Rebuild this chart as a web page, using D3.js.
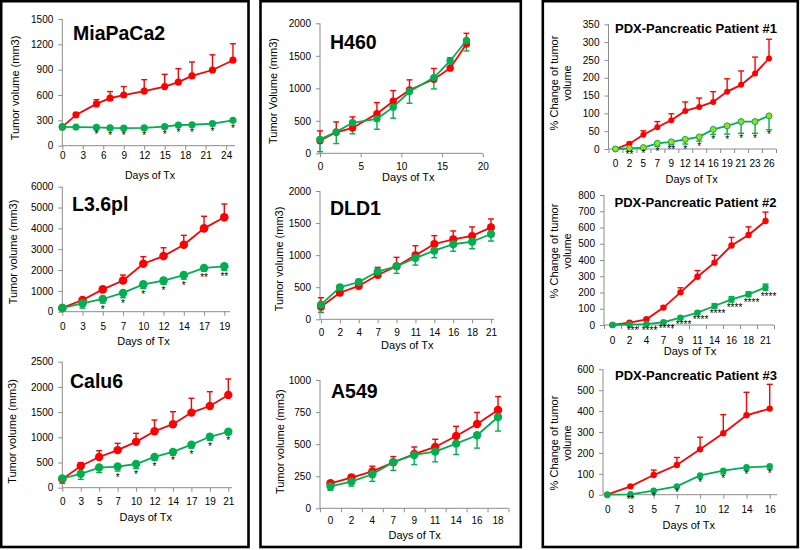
<!DOCTYPE html>
<html><head><meta charset="utf-8">
<script src="https://cdn.jsdelivr.net/npm/d3@7"></script>
<style>
body{margin:0;background:#fff}
svg{display:block}
text{font-family:"Liberation Sans",Arial,Helvetica,sans-serif}
</style>
</head><body>
<svg id="c" width="800" height="550"></svg>
<script>
// ---------------- DATA ----------------
// MiaPaCa2
const miaDays = [0,2,5,7,9,12,15,17,19,22,25];
const miaCtrl = [222,365,495,563,600,647,700,752,826,896,1012];
const miaCtrlErr = [0,20,50,78,100,135,145,160,165,180,195];
const miaTrt = [222,220,216,210,208,210,225,245,248,262,300];
const miaTrtErr = [8,10,10,10,10,10,12,12,12,12,15];
const miaStars = ["","","*","*","*","*","*","*","*","*","*"];
const miaTicks = [0,3,6,9,12,15,18,21,24];
// L3.6pl
const l3Days = [0,3,5,7,10,12,14,17,19];
const l3Ctrl = [180,560,1070,1500,2300,2670,3215,4000,4530];
const l3CtrlErr = [0,60,130,260,340,400,450,580,640];
const l3Trt = [180,400,610,900,1310,1490,1760,2100,2180];
const l3TrtErr = [50,230,200,230,200,180,200,150,200];
const l3Stars = ["","","*","*","*","*","*","**","**"];
// Calu6
const caluDays = [0,3,5,7,10,12,14,17,19,21];
const caluCtrl = [170,430,610,745,910,1120,1260,1490,1620,1840];
const caluCtrlErr = [0,66,124,135,169,223,248,284,285,317];
const caluTrt = [185,275,400,420,470,610,710,855,1010,1110];
const caluTrtErr = [100,110,100,90,90,70,60,70,70,60];
const caluStars = ["","","","*","*","*","*","*","*","*"];
// H460
const h460Days = [0,2,4,7,9,11,14,16,18];
const h460Ctrl = [195,323,390,610,800,975,1140,1310,1680];
const h460CtrlErr = [150,160,170,170,165,155,165,160,166];
const h460Trt = [215,330,470,530,710,950,1165,1420,1735];
const h460TrtErr = [190,180,170,160,170,180,175,100,160];
const h460Ticks = [0,5,10,15,20];
// DLD1
const dldDays = [0,2,4,7,9,11,14,16,18,21];
const dldCtrl = [197,415,520,690,826,997,1174,1247,1300,1434];
const dldCtrlErr = [140,100,100,120,140,150,130,130,140,130];
const dldTrt = [228,500,580,745,826,955,1070,1170,1210,1330];
const dldTrtErr = [120,40,50,60,110,110,110,110,110,110];
// A549
const a549Days = [0,2,4,7,9,11,14,16,18];
const a549Ctrl = [195,240,288,358,423,478,564,657,766];
const a549CtrlErr = [15,20,40,45,55,60,75,90,105];
const a549Trt = [171,208,265,360,416,442,504,569,712];
const a549TrtErr = [30,35,55,65,75,80,85,100,110];
// PDX Patient #1
const pdx1Days = [0,2,5,7,9,12,14,16,19,21,23,26];
const pdx1Ctrl = [0,15,40,61,81,107,118,132,161,180,212,254];
const pdx1CtrlErr = [0,3,11,16,18,25,25,29,36,39,46,54];
const pdx1Trt = [0,2,4,16,20,27,34,55,65,77,77,93];
const pdx1TrtErr = [0,2,3,9,8,13,12,14,23,33,33,39];
const pdx1Stars = ["","**","*","*","**","*","*","*","*","*","*","*"];
// PDX Patient #2
const pdx2Days = [0,2,4,7,9,11,14,16,18,21];
const pdx2Ctrl = [0,14,35,107,201,297,384,489,554,640];
const pdx2CtrlErr = [0,5,8,12,28,38,45,50,50,55];
const pdx2Trt = [0,4,6,17,45,76,117,158,189,232];
const pdx2TrtErr = [0,2,3,5,8,10,14,17,15,20];
const pdx2Stars = ["","***","****","****","****","****","****","****","****","****"];
// PDX Patient #3
const pdx3Days = [0,3,5,7,10,12,14,16];
const pdx3Ctrl = [0,40,94,142,217,294,380,412];
const pdx3CtrlErr = [0,3,24,36,58,89,110,116];
const pdx3Trt = [0,2,19,40,92,115,131,136];
const pdx3TrtErr = [0,2,4,6,12,15,14,14];
const pdx3Stars = ["","**","*","*","*","*","*","*"];

// ---------------- LAYOUT ----------------
const RED = "#FF0000", GREEN = "#00B050", AXIS = "#8c8c8c";
const TV = ["Tumor volume (mm3)"];
const PC = ["% Change of tumor","volume"];

const panels = [
 {title:"MiaPaCa2", tx:73, ty:40, tsize:19.5, tanchor:"start", ylab:TV, ylx:[15], yly:88,
  left:62.3, top:19, bottom:145.7, yMax:1500, yStep:300,
  xType:"linear", xDomain:[0,25.3], xEnd:235, axisEnd:235, xTicks:miaTicks, tickPad:2,
  xlabX:150, xlabY:175, xlabSize:10.5, r:3.6, starOff:10,
  days:miaDays, ctrl:miaCtrl, ctrlErr:miaCtrlErr, trt:miaTrt, trtErr:miaTrtErr, stars:miaStars},
 {title:"L3.6pl", tx:72, ty:211, tsize:19.5, tanchor:"start", ylab:TV, ylx:[12.7], yly:252,
  left:62.3, top:186.7, bottom:311.7, yMax:6000, yStep:1000,
  xType:"point", pRange:[62.3,224.3], axisEnd:230, tickPad:7.5,
  xlabX:143.5, xlabY:340.7, xlabSize:11, r:4.3, starOff:9.5,
  days:l3Days, ctrl:l3Ctrl, ctrlErr:l3CtrlErr, trt:l3Trt, trtErr:l3TrtErr, stars:l3Stars},
 {title:"Calu6", tx:70, ty:387.7, tsize:19.5, tanchor:"start", ylab:TV, ylx:[11.7], yly:431.5,
  left:62.3, top:361.7, bottom:487.7, yMax:2500, yStep:500,
  xType:"point", pRange:[62.3,228.3], axisEnd:232, tickPad:6.5,
  xlabX:145.8, xlabY:517.3, xlabSize:11, r:4.2, starOff:9.5,
  days:caluDays, ctrl:caluCtrl, ctrlErr:caluCtrlErr, trt:caluTrt, trtErr:caluTrtErr, stars:caluStars},
 {title:"H460", tx:330, ty:49, tsize:19.5, tanchor:"start", ylab:["Tumor Volume (mm3)"], ylx:[273.3], yly:91,
  left:320, top:23.3, bottom:153.3, yMax:2000, yStep:500,
  xType:"linear", xDomain:[0,20], xEnd:482.7, axisEnd:482.7, xTicks:h460Ticks, tickPad:5.8,
  xlabX:408.3, xlabY:177, xlabSize:11, r:3.7,
  days:h460Days, ctrl:h460Ctrl, ctrlErr:h460CtrlErr, trt:h460Trt, trtErr:h460TrtErr, stars:null},
 {title:"DLD1", tx:330, ty:215, tsize:19.5, tanchor:"start", ylab:TV, ylx:[279], yly:259,
  left:320, top:191, bottom:319.3, yMax:2000, yStep:500,
  xType:"point", pRange:[321,491], axisEnd:494, tickPad:5.8,
  xlabX:407.3, xlabY:345, xlabSize:11, r:4,
  days:dldDays, ctrl:dldCtrl, ctrlErr:dldCtrlErr, trt:dldTrt, trtErr:dldTrtErr, stars:null},
 {title:"A549", tx:331, ty:398.3, tsize:19.5, tanchor:"start", ylab:TV, ylx:[280], yly:441.7,
  left:320, top:380, bottom:508.3, yMax:1000, yStep:250,
  xType:"band", bandRange:[320,508.5], axisEnd:508.5, tickPad:4.8,
  xlabX:414.7, xlabY:535, xlabSize:11, r:4.2,
  days:a549Days, ctrl:a549Ctrl, ctrlErr:a549CtrlErr, trt:a549Trt, trtErr:a549TrtErr, stars:null},
 {title:"PDX-Pancreatic Patient #1", tx:696, ty:33.3, tsize:13, tanchor:"middle", ylab:PC, ylx:[554,567.5], yly:83,
  left:608.5, top:24.3, bottom:149, yMax:350, yStep:50,
  xType:"band", bandRange:[608.5,776], axisEnd:776, tickPad:6.8,
  xlabX:691.7, xlabY:179, xlabSize:11, r:3, trtFill:"#A9D61B", starOff:8.5,
  days:pdx1Days, ctrl:pdx1Ctrl, ctrlErr:pdx1CtrlErr, trt:pdx1Trt, trtErr:pdx1TrtErr, stars:pdx1Stars},
 {title:"PDX-Pancreatic Patient #2", tx:695.5, ty:206.7, tsize:13, tanchor:"middle", ylab:PC, ylx:[554,567.5], yly:251,
  left:604, top:195, bottom:325, yMax:800, yStep:100,
  xType:"band", bandRange:[604,774], axisEnd:774, tickPad:7.5,
  xlabX:690, xlabY:351, xlabSize:11, r:3.2, trtBoth:true, starDx:3, starOff:9,
  days:pdx2Days, ctrl:pdx2Ctrl, ctrlErr:pdx2CtrlErr, trt:pdx2Trt, trtErr:pdx2TrtErr, stars:pdx2Stars},
 {title:"PDX-Pancreatic Patient #3", tx:696, ty:380, tsize:13, tanchor:"middle", ylab:PC, ylx:[554,567.5], yly:443,
  left:603, top:369.3, bottom:494.7, yMax:600, yStep:100,
  xType:"point", pRange:[607.3,769.7], axisEnd:777, tickPad:6.8,
  xlabX:688.8, xlabY:525, xlabSize:11, r:3.2, starOff:8,
  days:pdx3Days, ctrl:pdx3Ctrl, ctrlErr:pdx3CtrlErr, trt:pdx3Trt, trtErr:pdx3TrtErr, stars:pdx3Stars}
];

const boxes = [
 {x:1.2, y:1.2, w:247.3, h:545.8},
 {x:260.5, y:1.2, w:260.3, h:545.8},
 {x:542.8, y:1.2, w:255, h:545.8}
];

// ---------------- DRAW ----------------
const svg = d3.select("#c");
svg.append("rect").attr("width",800).attr("height",550).attr("fill","#fff");

boxes.forEach(b => svg.append("rect").attr("x",b.x).attr("y",b.y).attr("width",b.w).attr("height",b.h)
  .attr("fill","none").attr("stroke","#000").attr("stroke-width",2.6));

function styleAxis(sel){
  sel.select(".domain").remove();
  sel.selectAll(".tick line").attr("stroke",AXIS).attr("stroke-width",1);
  sel.selectAll(".tick text").attr("fill","#000").style("font-size","10px")
     .style("font-family",'"Liberation Sans",Arial,sans-serif');
}

panels.forEach(p => {
  const g = svg.append("g");
  const y = d3.scaleLinear().domain([0,p.yMax]).range([p.bottom,p.top]);
  let px;
  // x axis
  if (p.xType === "linear") {
    const x = d3.scaleLinear().domain(p.xDomain).range([p.left,p.xEnd]);
    px = i => x(p.days[i]);
    g.append("g").attr("transform",`translate(0,${p.bottom})`)
      .call(d3.axisBottom(x).tickValues(p.xTicks).tickSize(4).tickPadding(p.tickPad).tickSizeOuter(0))
      .call(styleAxis);
  } else if (p.xType === "point") {
    const x = d3.scalePoint().domain(p.days.map(String)).range(p.pRange);
    px = i => x(String(p.days[i]));
    g.append("g").attr("transform",`translate(0,${p.bottom})`)
      .call(d3.axisBottom(x).tickSize(4).tickPadding(p.tickPad).tickSizeOuter(0))
      .call(styleAxis);
  } else {
    const x = d3.scaleBand().domain(p.days.map(String)).range(p.bandRange).padding(0);
    px = i => x(String(p.days[i])) + x.bandwidth()/2;
    g.append("g").attr("transform",`translate(0,${p.bottom})`)
      .call(d3.axisBottom(x).tickSize(0).tickPadding(p.tickPad+4).tickSizeOuter(0))
      .call(styleAxis);
    const xi = d3.scaleLinear().domain([0,p.days.length]).range(p.bandRange);
    g.append("g").attr("transform",`translate(0,${p.bottom})`)
      .call(d3.axisBottom(xi).tickValues(d3.range(p.days.length+1)).tickSize(4).tickFormat(""))
      .call(styleAxis);
  }
  // y axis
  g.append("g").attr("transform",`translate(${p.left},0)`)
    .call(d3.axisLeft(y).tickValues(d3.range(0,p.yMax+1,p.yStep)).tickSize(4).tickPadding(5).tickFormat(d3.format("d")))
    .call(styleAxis);
  g.append("line").attr("x1",p.left).attr("x2",p.left).attr("y1",p.top).attr("y2",p.bottom)
    .attr("stroke",AXIS).attr("stroke-width",1);
  g.append("line").attr("x1",p.left).attr("x2",p.axisEnd).attr("y1",p.bottom).attr("y2",p.bottom)
    .attr("stroke",AXIS).attr("stroke-width",1);

  const idx = d3.range(p.days.length);
  const cap = 3;
  // error bars
  const eb = (vals, errs, dir, col) => {
    idx.forEach(i => {
      if (!errs[i]) return;
      const x0 = px(i), y0 = y(vals[i]), y1 = y(vals[i] + dir*errs[i]);
      g.append("line").attr("x1",x0).attr("x2",x0).attr("y1",y0).attr("y2",y1)
        .attr("stroke",col).attr("stroke-width",1.4);
      g.append("line").attr("x1",x0-cap).attr("x2",x0+cap).attr("y1",y1).attr("y2",y1)
        .attr("stroke",col).attr("stroke-width",1.4);
    });
  };
  eb(p.ctrl, p.ctrlErr, 1, RED);
  eb(p.trt, p.trtErr, -1, GREEN);
  if (p.trtBoth) eb(p.trt, p.trtErr, 1, GREEN);

  const line = vals => d3.line().x((d,i)=>px(i)).y(d=>y(d))(vals);
  g.append("path").attr("d",line(p.ctrl)).attr("fill","none").attr("stroke",RED).attr("stroke-width",1.8);
  g.selectAll(null).data(p.ctrl).enter().append("circle")
    .attr("cx",(d,i)=>px(i)).attr("cy",d=>y(d)).attr("r",p.r).attr("fill",RED);
  g.append("path").attr("d",line(p.trt)).attr("fill","none").attr("stroke",GREEN).attr("stroke-width",1.8);
  g.selectAll(null).data(p.trt).enter().append("circle")
    .attr("cx",(d,i)=>px(i)).attr("cy",d=>y(d)).attr("r",p.r)
    .attr("fill",p.trtFill || GREEN).attr("stroke",p.trtFill ? GREEN : "none").attr("stroke-width",1);

  // significance stars
  if (p.stars) {
    idx.forEach(i => {
      if (!p.stars[i]) return;
      g.append("text").attr("x",px(i)+(p.starDx||0)).attr("y",y(p.trt[i]-p.trtErr[i])+(p.starOff||9))
        .attr("text-anchor","middle").style("font-size","10px").attr("fill","#000").text(p.stars[i]);
    });
  }

  // title
  g.append("text").attr("x",p.tx).attr("y",p.ty).attr("text-anchor",p.tanchor)
    .style("font-size",p.tsize+"px").style("font-weight","bold").attr("fill","#000").text(p.title);
  // y label
  p.ylab.forEach((t,k) => {
    g.append("text").attr("transform",`translate(${p.ylx[k]},${p.yly}) rotate(-90)`)
      .attr("text-anchor","middle").attr("dy","0.35em").style("font-size","11px").attr("fill","#000").text(t);
  });
  // x label
  g.append("text").attr("x",p.xlabX).attr("y",p.xlabY).attr("dy","0.35em").attr("text-anchor","middle")
    .style("font-size",p.xlabSize+"px").attr("fill","#000").text("Days of Tx");
});
</script>
</body></html>
